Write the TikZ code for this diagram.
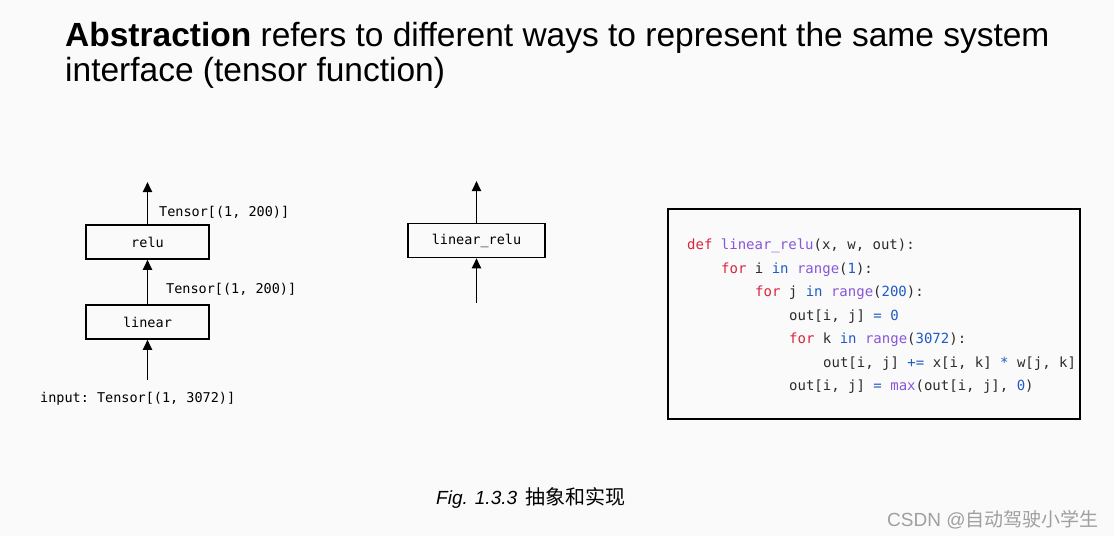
\documentclass[tikz,border=0pt]{standalone}
\usepackage{fontspec}
\setmainfont{Liberation Sans}
\setmonofont{DejaVu Sans Mono}
\newfontfamily\cjk{Noto Sans CJK SC}
\usetikzlibrary{arrows.meta}
\definecolor{bgcol}{HTML}{FAFAFA}
\definecolor{kwred}{HTML}{D7263D}
\definecolor{fnpurple}{HTML}{8A55DA}
\definecolor{opblue}{HTML}{1E5BC6}
\definecolor{codeink}{HTML}{2B2B2B}
\newcommand{\kw}[1]{\textcolor{kwred}{#1}}
\newcommand{\fn}[1]{\textcolor{fnpurple}{#1}}
\newcommand{\op}[1]{\textcolor{opblue}{#1}}

\begin{document}
\begin{tikzpicture}[x=1pt,y=-1pt,
    opbox/.style={draw,line width=1.5pt,minimum width=123pt,minimum height=34pt,
                  inner sep=0pt,font=\fontsize{13.5}{16}\ttfamily},
    flow/.style={line width=1.8pt,-{Triangle[length=10pt,width=9pt]}},
    lbl/.style={anchor=base west,inner sep=0pt,font=\fontsize{13.5}{16}\ttfamily},
    codeline/.style={anchor=base west,inner sep=0pt,text=codeink,
                     font=\fontsize{14}{17}\ttfamily}]
\fill[bgcol] (0,0) rectangle (1114,536);
\useasboundingbox (0,0) rectangle (1114,536);

% title
\node[anchor=base west,inner sep=0pt] (title1) at (65,46)
  {\fontsize{33.5}{40}\selectfont\textbf{Abstraction} refers to different ways to represent the same system};
\node[anchor=base west,inner sep=0pt] (title2) at (65,81)
  {\fontsize{33.5}{40}\selectfont interface (tensor function)};

% left: two operators
\node[opbox] (relu) at (147.5,242) {relu};
\node[opbox] (linear) at (147.5,322) {linear};
\coordinate (in) at (147.5,380);
\coordinate (out) at (147.5,182);
\draw[flow] (in) -- (linear);
\draw[flow] (linear) -- (relu);
\draw[flow] (relu) -- (out);
\node[lbl] (t1) at (159,216) {Tensor[(1, 200)]};
\node[lbl] (t2) at (166,293) {Tensor[(1, 200)]};
\node[lbl] (tin) at (40,402) {input: Tensor[(1, 3072)]};

% middle: fused operator
\node[opbox,minimum width=137pt] (fused) at (476.5,240.5) {linear\_relu};
\coordinate (fin) at (476.5,303);
\coordinate (fout) at (476.5,181);
\draw[flow] (fin) -- (fused);
\draw[flow] (fused) -- (fout);

% right: implementation
\node[draw,line width=2pt,minimum width=412pt,minimum height=210pt,inner sep=0pt]
  (code) at (874,314) {};
\node[codeline] (c1) at (687,249) {\kw{def} \fn{linear\_relu}(x, w, out):};
\node[codeline] (c2) at (721,273) {\kw{for} i \op{in} \fn{range}(\op{1}):};
\node[codeline] (c3) at (755,296) {\kw{for} j \op{in} \fn{range}(\op{200}):};
\node[codeline] (c4) at (789,320) {out[i, j] \op{=} \op{0}};
\node[codeline] (c5) at (789,343) {\kw{for} k \op{in} \fn{range}(\op{3072}):};
\node[codeline] (c6) at (823,367) {out[i, j] \op{+=} x[i, k] \op{*} w[j, k]};
\node[codeline] (c7) at (789,390) {out[i, j] \op{=} \fn{max}(out[i, j], \op{0})};

% caption and mark
\node[anchor=base west,inner sep=0pt] (cap) at (436,504)
  {\fontsize{19}{22}\selectfont\textit{Fig. 1.3.3}\hspace{8pt}{\cjk\fontsize{20}{22}\selectfont 抽象和实现}};
\node[anchor=base west,inner sep=0pt,text=gray!75] (mark) at (887,526)
  {\fontsize{19}{22}\selectfont CSDN @{\cjk 自动驾驶小学生}};
\end{tikzpicture}
\end{document}
